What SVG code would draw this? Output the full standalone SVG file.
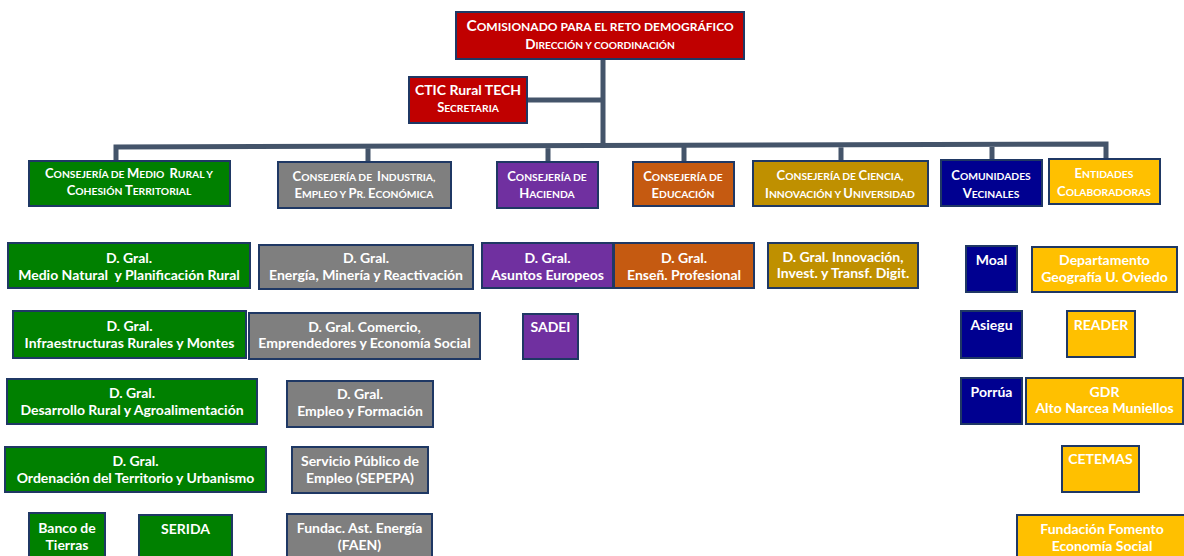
<svg xmlns="http://www.w3.org/2000/svg" width="1184" height="556" viewBox="0 0 1184 556">
<style>
.b{stroke:#1F3864;stroke-width:2}
.red{fill:#C00000}.grn{fill:#008000}.gry{fill:#7F7F7F}.pur{fill:#7030A0}.org{fill:#C55A11}.gld{fill:#BF9000}.nav{fill:#000090}.yel{fill:#FFC000}
text{font-family:Lato,"Open Sans","Liberation Sans",sans-serif;font-weight:700;fill:#FFFFFF;text-anchor:middle;font-size:14px}
.h{font-size:13px}
.s{font-size:10.3px}
.c{fill:none;stroke:#44546A;stroke-width:5}
</style>
<rect width="1184" height="556" fill="#FFFFFF"/>
<g id="connectors">
<path class="c" d="M603 59V146M527 100H603M116 161V147L1106 144V159M368 162V146M548 162V146M684 162V145M841 161V145M992 160V144"/>
</g>
<g id="comisionado"><rect class="b red" x="456" y="12" width="288" height="47"/><text x="600" y="31" style="font-size:15.5px">C<tspan style="font-size:12px">OMISIONADO PARA EL RETO DEMOGRÁFICO</tspan></text><text x="600" y="49" style="font-size:13.5px">D<tspan style="font-size:10.2px">IRECCIÓN Y COORDINACIÓN</tspan></text></g>
<g id="ctic"><rect class="b red" x="409" y="77" width="118" height="46"/><text x="468" y="95">CTIC Rural TECH</text><text class="h" x="468" y="112">S<tspan class="s">ECRETARIA</tspan></text></g>
<g id="c-medio-rural"><rect class="b grn" x="29" y="161" width="201" height="45"/><text class="h" x="129" y="178" xml:space="preserve">C<tspan class="s">ONSEJERÍA DE </tspan>M<tspan class="s">EDIO  </tspan>R<tspan class="s">URAL Y</tspan></text><text class="h" x="129" y="195">C<tspan class="s">OHESIÓN </tspan>T<tspan class="s">ERRITORIAL</tspan></text></g>
<g id="c-industria"><rect class="b gry" x="278" y="162" width="173" height="46"/><text class="h" x="364" y="181" xml:space="preserve">C<tspan class="s">ONSEJERÍA DE  </tspan>I<tspan class="s">NDUSTRIA,</tspan></text><text class="h" x="364" y="198">E<tspan class="s">MPLEO Y </tspan>P<tspan class="s">R. </tspan>E<tspan class="s">CONÓMICA</tspan></text></g>
<g id="c-hacienda"><rect class="b pur" x="497" y="162" width="101" height="46"/><text class="h" x="547" y="181">C<tspan class="s">ONSEJERÍA DE</tspan></text><text class="h" x="547" y="198">H<tspan class="s">ACIENDA</tspan></text></g>
<g id="c-educacion"><rect class="b org" x="633" y="162" width="101" height="44"/><text class="h" x="683" y="181">C<tspan class="s">ONSEJERÍA DE</tspan></text><text class="h" x="683" y="198">E<tspan class="s">DUCACIÓN</tspan></text></g>
<g id="c-ciencia"><rect class="b gld" x="753" y="161" width="175" height="45"/><text class="h" x="840" y="180">C<tspan class="s">ONSEJERÍA DE </tspan>C<tspan class="s">IENCIA,</tspan></text><text class="h" x="840" y="198">I<tspan class="s">NNOVACIÓN Y </tspan>U<tspan class="s">NIVERSIDAD</tspan></text></g>
<g id="c-comunidades"><rect class="b nav" x="941" y="160" width="101" height="46"/><text class="h" x="991" y="180">C<tspan class="s">OMUNIDADES</tspan></text><text class="h" x="991" y="198">V<tspan class="s">ECINALES</tspan></text></g>
<g id="c-entidades"><rect class="b yel" x="1049" y="159" width="111" height="45"/><text class="h" x="1104" y="178">E<tspan class="s">NTIDADES</tspan></text><text class="h" x="1104" y="196">C<tspan class="s">OLABORADORAS</tspan></text></g>
<g id="g-medio-natural"><rect class="b grn" x="8" y="243" width="242" height="45"/><text x="129" y="263">D. Gral.</text><text x="129" y="280" xml:space="preserve">Medio Natural  y Planificación Rural</text></g>
<g id="g-infraestructuras"><rect class="b grn" x="13" y="311" width="233" height="47"/><text x="129.5" y="331">D. Gral.</text><text x="129.5" y="348">Infraestructuras Rurales y Montes</text></g>
<g id="g-desarrollo"><rect class="b grn" x="7" y="379" width="250" height="45"/><text x="132" y="398">D. Gral.</text><text x="132" y="415">Desarrollo Rural y Agroalimentación</text></g>
<g id="g-ordenacion"><rect class="b grn" x="5" y="447" width="261" height="45"/><text x="135.5" y="466">D. Gral.</text><text x="135.5" y="483">Ordenación del Territorio y Urbanismo</text></g>
<g id="banco-tierras"><rect class="b grn" x="29" y="513" width="76" height="55"/><text x="67" y="533">Banco de</text><text x="67" y="550">Tierras</text></g>
<g id="serida"><rect class="b grn" x="139" y="515" width="93" height="55"/><text x="185.5" y="534">SERIDA</text></g>
<g id="g-energia"><rect class="b gry" x="259" y="245" width="214" height="44"/><text x="366" y="263">D. Gral.</text><text x="366" y="280">Energía, Minería y Reactivación</text></g>
<g id="g-comercio"><rect class="b gry" x="249" y="313" width="231" height="46"/><text x="364.5" y="332">D. Gral. Comercio,</text><text x="364.5" y="348">Emprendedores y Economía Social</text></g>
<g id="g-empleo"><rect class="b gry" x="287" y="381" width="146" height="46"/><text x="360" y="399">D. Gral.</text><text x="360" y="416">Empleo y Formación</text></g>
<g id="sepepa"><rect class="b gry" x="292" y="447" width="136" height="46"/><text x="360" y="466">Servicio Público de</text><text x="360" y="483">Empleo (SEPEPA)</text></g>
<g id="faen"><rect class="b gry" x="287" y="514" width="145" height="55"/><text x="359.5" y="533">Fundac. Ast. Energía</text><text x="359.5" y="550">(FAEN)</text></g>
<g id="g-asuntos-europeos"><rect class="b pur" x="482" y="243" width="131" height="45"/><text x="547.5" y="263">D. Gral.</text><text x="547.5" y="280">Asuntos Europeos</text></g>
<g id="sadei"><rect class="b pur" x="523" y="314" width="55" height="45"/><text x="550.5" y="332">SADEI</text></g>
<g id="g-ensenanza"><rect class="b org" x="614" y="243" width="140" height="45"/><text x="684" y="263">D. Gral.</text><text x="684" y="280">Enseñ. Profesional</text></g>
<g id="g-innovacion"><rect class="b gld" x="768" y="243" width="150" height="45"/><text x="843" y="262">D. Gral. Innovación,</text><text x="843" y="278">Invest. y Transf. Digit.</text></g>
<g id="moal"><rect class="b nav" x="966" y="246" width="51" height="46"/><text x="991.5" y="265">Moal</text></g>
<g id="asiegu"><rect class="b nav" x="961" y="311" width="61" height="47"/><text x="991.5" y="330">Asiegu</text></g>
<g id="porrua"><rect class="b nav" x="961" y="378" width="61" height="46"/><text x="991.5" y="397">Porrúa</text></g>
<g id="geografia"><rect class="b yel" x="1032" y="247" width="145" height="45"/><text x="1104.5" y="265">Departamento</text><text x="1104.5" y="282">Geografía U. Oviedo</text></g>
<g id="reader"><rect class="b yel" x="1067" y="311" width="68" height="46"/><text x="1101" y="330">READER</text></g>
<g id="gdr"><rect class="b yel" x="1026" y="378" width="157" height="46"/><text x="1104.5" y="397">GDR</text><text x="1104.5" y="413">Alto Narcea Muniellos</text></g>
<g id="cetemas"><rect class="b yel" x="1062" y="446" width="77" height="46"/><text x="1100.5" y="464">CETEMAS</text></g>
<g id="fundacion-fomento"><rect class="b yel" x="1017" y="515" width="171" height="55"/><text x="1102" y="534">Fundación Fomento</text><text x="1102" y="551">Economía Social</text></g>
</svg>
